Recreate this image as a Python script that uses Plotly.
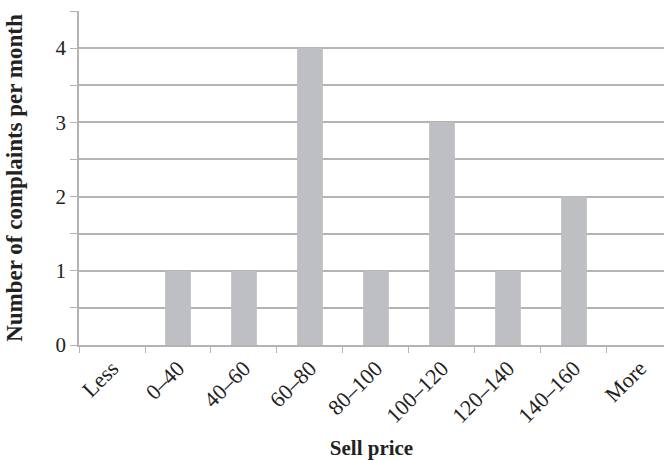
import plotly.graph_objects as go

categories = ["Less", "0\u201340", "40\u201360", "60\u201380", "80\u2013100",
              "100\u2013120", "120\u2013140", "140\u2013160", "More"]
complaints = [0, 1, 1, 4, 1, 3, 1, 2, 0]

y_ticks = [i * 0.5 for i in range(10)]
y_ticktext = [str(int(v)) if v == int(v) else "" for v in y_ticks]

FONT = "Liberation Serif, DejaVu Serif, serif"
GRID = "#b4b4b4"

fig = go.Figure(
    go.Bar(
        x=categories,
        y=complaints,
        marker=dict(color="#bebfc2", line=dict(width=0)),
        width=0.39,
    )
)

fig.update_layout(
    width=664,
    height=460,
    margin=dict(l=79, r=0, t=11, b=115),
    paper_bgcolor="white",
    plot_bgcolor="white",
    showlegend=False,
    font=dict(family=FONT, color="#222222", size=20),
    xaxis=dict(
        type="category",
        range=[-0.5, 8.364],
        tickangle=-45,
        tickson="boundaries",
        ticks="outside",
        ticklen=6,
        tickcolor=GRID,
        showline=True,
        linecolor=GRID,
        linewidth=1.5,
        showgrid=False,
        tickfont=dict(size=22, family=FONT),
        title=dict(text="<b>Sell price</b>", font=dict(size=21, family=FONT), standoff=18),
    ),
    yaxis=dict(
        range=[0, 4.5],
        tickmode="array",
        tickvals=y_ticks,
        ticktext=y_ticktext,
        ticks="outside",
        ticklen=7,
        tickcolor=GRID,
        showline=True,
        linecolor=GRID,
        linewidth=1.5,
        showgrid=True,
        gridcolor=GRID,
        gridwidth=1.5,
        zeroline=False,
        tickfont=dict(size=21, family=FONT),
        title=dict(text="<b>Number of complaints per month</b>",
                   font=dict(size=23, family=FONT), standoff=26),
    ),
)

fig.write_html("out.html")
